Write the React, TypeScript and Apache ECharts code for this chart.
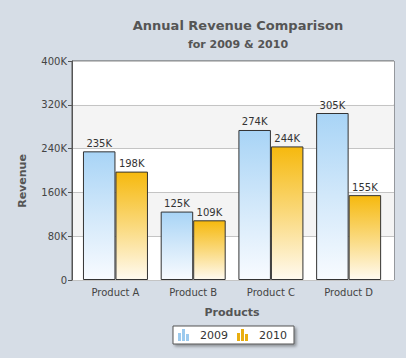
import React, { useEffect, useRef } from "react";
import * as echarts from "echarts";

const categories = ["Product A", "Product B", "Product C", "Product D"];
const revenue2009 = [235000, 125000, 274000, 305000];
const revenue2010 = [198000, 109000, 244000, 155000];
const seriesNames = ["2009", "2010"];
const yMax = 400000;
const yInterval = 80000;

const FONT = "DejaVu Sans, Verdana, sans-serif";
const kFormat = (v: number) => (v === 0 ? "0" : Math.round(v / 1000) + "K");

const iconPath =
  "path://M0,4H3V12H0Z M4,0H7V12H4Z M8,5H11V12H8Z";

export default function App() {
  const ref = useRef<HTMLDivElement>(null);
  useEffect(() => {
    const chart = echarts.init(ref.current!, null, { renderer: "svg" });
    const grad = (top: string, mid: string, bottom: string) =>
      new echarts.graphic.LinearGradient(0, 0, 0, 1, [
        { offset: 0, color: top },
        { offset: 0.5, color: mid },
        { offset: 1, color: bottom },
      ]);
    chart.setOption({
      animation: false,
      backgroundColor: "#d6dde6",
      title: [
        {
          text: "Annual Revenue Comparison",
          left: 233,
          top: 14,
          textAlign: "center",
          textStyle: { fontFamily: FONT, fontSize: 13, fontWeight: "bold", color: "#555" },
        },
        {
          text: "for 2009 & 2010",
          left: 233,
          top: 34,
          textAlign: "center",
          textStyle: { fontFamily: FONT, fontSize: 11, fontWeight: "bold", color: "#555" },
        },
      ],
      legend: {
        left: 173,
        top: 326,
        padding: [3, 7, 3, 5],
        itemWidth: 11,
        itemHeight: 12,
        itemGap: 9,
        backgroundColor: "#ffffff",
        borderColor: "#555",
        borderWidth: 1,
        shadowColor: "rgba(0,0,0,0.35)",
        shadowBlur: 3,
        shadowOffsetX: 2,
        shadowOffsetY: 2,
        textStyle: { fontFamily: FONT, fontSize: 11, color: "#333", padding: [0, 0, 0, 6] },
        icon: iconPath,
        data: [
          { name: seriesNames[0], itemStyle: { color: "#9ccaee", borderWidth: 0 } },
          { name: seriesNames[1], itemStyle: { color: "#e9ae10", borderWidth: 0 } },
        ],
      },
      graphic: [
        {
          type: "text",
          x: 22,
          y: 181,
          rotation: Math.PI / 2,
          style: {
            text: "Revenue",
            fontFamily: FONT,
            fontSize: 11,
            fontWeight: "bold",
            fill: "#555",
            textAlign: "center",
            textVerticalAlign: "middle",
          },
        },
        {
          type: "text",
          x: 232,
          y: 312,
          style: {
            text: "Products",
            fontFamily: FONT,
            fontSize: 11,
            fontWeight: "bold",
            fill: "#555",
            textAlign: "center",
            textVerticalAlign: "middle",
          },
        },
      ],
      grid: [
        {
          left: 72,
          top: 61,
          width: 322,
          height: 219,
          show: true,
          backgroundColor: "#ffffff",
          borderColor: "#555",
          borderWidth: 1,
        },
        { left: 76.6, top: 61, width: 310.9, height: 219 },
      ],
      xAxis: [
        { type: "value", gridIndex: 0, show: false, min: 0, max: 1 },
        {
          type: "category",
          gridIndex: 1,
          data: categories,
          axisLine: { show: false },
          axisTick: { show: false },
          axisLabel: { fontFamily: FONT, fontSize: 10, color: "#444", margin: 7 },
        },
      ],
      yAxis: [
        {
          type: "value",
          gridIndex: 0,
          min: 0,
          max: yMax,
          interval: yInterval,
          axisLine: { show: true, lineStyle: { color: "#555" } },
          axisTick: { show: true, length: 4, lineStyle: { color: "#555" } },
          axisLabel: { fontFamily: FONT, fontSize: 10, color: "#444", margin: 5, formatter: kFormat },
          splitLine: { show: true, lineStyle: { color: "#c4c4c4" } },
          splitArea: { show: true, areaStyle: { color: ["#ffffff", "#f4f4f4"] } },
        },
        {
          type: "value",
          gridIndex: 1,
          min: 0,
          max: yMax,
          interval: yInterval,
          show: false,
          splitLine: { show: false },
        },
      ],
      series: [
        {
          name: seriesNames[0],
          type: "bar",
          xAxisIndex: 1,
          yAxisIndex: 1,
          data: revenue2009,
          barWidth: 32.5,
          barGap: "0%",
          itemStyle: {
            color: grad("#a8d4f6", "#d2e8fa", "#f8fbff"),
            borderColor: "#333",
            borderWidth: 1,
          },
          label: {
            show: true,
            position: "top",
            distance: 3,
            fontFamily: FONT,
            fontSize: 10,
            color: "#333",
            formatter: (p: any) => kFormat(p.value),
          },
        },
        {
          name: seriesNames[1],
          type: "bar",
          xAxisIndex: 1,
          yAxisIndex: 1,
          data: revenue2010,
          barWidth: 32.5,
          barGap: "0%",
          itemStyle: {
            color: grad("#f6b90e", "#fad97c", "#fffaf0"),
            borderColor: "#333",
            borderWidth: 1,
          },
          label: {
            show: true,
            position: "top",
            distance: 3,
            fontFamily: FONT,
            fontSize: 10,
            color: "#333",
            formatter: (p: any) => kFormat(p.value),
          },
        },
      ],
    });
    return () => chart.dispose();
  }, []);
  return <div ref={ref} style={{ width: 406, height: 358, position: "absolute", left: 0, top: 0 }} />;
}
